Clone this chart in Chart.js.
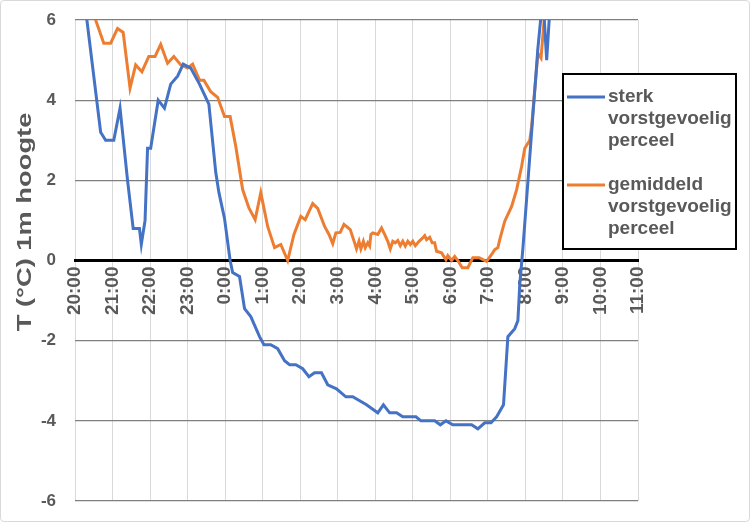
<!DOCTYPE html>
<html>
<head>
<meta charset="utf-8">
<script src="https://cdn.jsdelivr.net/npm/chart.js@4/dist/chart.umd.min.js"></script>
<style>
  body { margin: 0; background: #fff; }
  #wrap { width: 750px; height: 522px; box-sizing: border-box; border: 1px solid #d9d9d9; border-radius: 4px; }
  canvas { display: block; }
</style>
</head>
<body>
<div id="wrap"><canvas id="tempChart" width="748" height="520"></canvas></div>
<script>
// minuten na 20:00
const sterkTijd = [10, 19, 41, 49, 62, 72, 84, 93, 103, 106, 112, 116, 121, 133, 143, 153, 164, 173, 185, 199, 208, 214, 225, 230, 239, 248, 252, 263, 271, 281, 295, 302, 313, 324, 335, 343, 353, 364, 374, 383, 394, 404, 418, 433, 444, 466, 484, 493, 503, 514, 524, 545, 553, 575, 584, 593, 604, 634, 644, 655, 665, 674, 685, 692, 703, 708, 711, 716, 740, 748, 754, 764];
const sterkTemp = [7.3, 6.0, 3.2, 3.0, 3.0, 3.8, 2.0, 0.8, 0.8, 0.4, 1.0, 2.8, 2.8, 4.0, 3.8, 4.4, 4.6, 4.9, 4.8, 4.4, 4.1, 3.9, 2.2, 1.7, 1.05, 0.0, -0.3, -0.4, -1.2, -1.4, -1.9, -2.1, -2.1, -2.2, -2.5, -2.6, -2.6, -2.7, -2.9, -2.8, -2.8, -3.1, -3.2, -3.4, -3.4, -3.6, -3.8, -3.6, -3.8, -3.8, -3.9, -3.9, -4.0, -4.0, -4.1, -4.0, -4.1, -4.1, -4.2, -4.05, -4.05, -3.9, -3.6, -1.9, -1.7, -1.5, -0.6, 0.3, 5.3, 6.6, 5.0, 7.5];

const gemTijd = [15, 33, 46, 57, 68, 77, 88, 97, 107, 118, 128, 137, 148, 158, 169, 180, 188, 199, 206, 217, 228, 239, 248, 257, 268, 278, 288, 297, 308, 319, 329, 340, 350, 361, 368, 380, 388, 399, 406, 412, 417, 424, 430, 440, 447, 450, 454, 457, 461, 464, 468, 471, 473, 476, 484, 490, 495, 500, 504, 508, 512, 516, 520, 524, 528, 532, 536, 540, 544, 550, 555, 559, 562, 567, 571, 575, 578, 586, 593, 596, 602, 607, 612, 619, 628, 636, 646, 658, 666, 671, 676, 679, 687, 698, 706, 714, 719, 727, 730, 740, 745, 750, 762];
const gemTemp = [6.7, 6.0, 5.42, 5.42, 5.79, 5.69, 4.3, 4.88, 4.71, 5.09, 5.09, 5.39, 4.92, 5.09, 4.88, 4.8, 4.9, 4.5, 4.5, 4.21, 4.07, 3.59, 3.59, 2.85, 1.77, 1.31, 1.02, 1.69, 0.85, 0.32, 0.4, 0.0, 0.65, 1.1, 1.02, 1.42, 1.3, 0.85, 0.65, 0.42, 0.69, 0.7, 0.9, 0.77, 0.44, 0.29, 0.48, 0.29, 0.48, 0.32, 0.44, 0.36, 0.65, 0.69, 0.65, 0.81, 0.65, 0.48, 0.29, 0.48, 0.44, 0.5, 0.37, 0.48, 0.36, 0.48, 0.4, 0.48, 0.37, 0.48, 0.55, 0.62, 0.52, 0.58, 0.44, 0.44, 0.23, 0.19, 0.02, 0.12, 0.0, 0.1, 0.0, -0.18, -0.18, 0.07, 0.07, -0.02, 0.15, 0.27, 0.32, 0.52, 0.98, 1.35, 1.77, 2.35, 2.8, 3.0, 3.35, 5.17, 5.05, 6.0, 7.6];

const reeksNamen = ['sterk vorstgevoelig perceel', 'gemiddeld vorstgevoelig perceel'];
const yTitel = 'T (°C) 1m hoogte';
const startUur = 20;

const grijs = '#595959';
const fontFam = '"Liberation Sans", Arial, sans-serif';

function punten(tijd, temp) {
  return tijd.map((t, i) => ({ x: t, y: temp[i] }));
}

// y-as titel, iets uitgerekt zoals in het origineel
const asTitel = {
  id: 'asTitel',
  afterDraw(chart) {
    const ctx = chart.ctx;
    ctx.save();
    ctx.translate(24, 221);
    ctx.rotate(-Math.PI / 2);
    ctx.scale(1.3, 1);
    ctx.font = 'bold 21px ' + fontFam;
    ctx.fillStyle = grijs;
    ctx.textAlign = 'center';
    ctx.textBaseline = 'middle';
    ctx.fillText(yTitel, 0, 0);
    ctx.restore();
  }
};

const legendeBox = {
  id: 'legendeBox',
  afterDraw(chart) {
    const ctx = chart.ctx;
    ctx.save();
    ctx.fillStyle = '#fff';
    ctx.fillRect(562, 73, 173, 175);
    ctx.strokeStyle = '#000';
    ctx.lineWidth = 2;
    ctx.strokeRect(562, 73, 173, 175);
    ctx.font = 'bold 19px ' + fontFam;
    ctx.textBaseline = 'middle';
    chart.data.datasets.forEach((ds, i) => {
      const y0 = 96 + i * 88;
      ctx.strokeStyle = ds.borderColor;
      ctx.lineWidth = 3;
      ctx.beginPath();
      ctx.moveTo(566, y0);
      ctx.lineTo(604, y0);
      ctx.stroke();
      ctx.fillStyle = grijs;
      ds.label.split(' ').forEach((woord, j) => {
        ctx.fillText(woord, 607, y0 + j * 22);
      });
    });
    ctx.restore();
  }
};

new Chart(document.getElementById('tempChart'), {
  type: 'line',
  data: {
    datasets: [{
      label: reeksNamen[0],
      data: punten(sterkTijd, sterkTemp),
      borderColor: '#4472C4',
      borderWidth: 3,
      pointRadius: 0,
      tension: 0
    }, {
      label: reeksNamen[1],
      data: punten(gemTijd, gemTemp),
      borderColor: '#ED7D31',
      borderWidth: 3,
      pointRadius: 0,
      tension: 0
    }]
  },
  options: {
    responsive: false,
    animation: false,
    devicePixelRatio: 1,
    layout: { padding: { left: 0, top: 19, right: 111, bottom: 20 } },
    plugins: {
      legend: { display: false },
      tooltip: { enabled: false }
    },
    scales: {
      x: {
        type: 'linear',
        position: { y: 0 },
        min: 0,
        max: 900,
        ticks: {
          stepSize: 60,
          autoSkip: false,
          minRotation: 90,
          maxRotation: 90,
          padding: 6,
          color: grijs,
          font: { family: fontFam, size: 19, weight: 'bold' },
          callback: v => ((startUur + v / 60) % 24) + ':00'
        },
        grid: { color: '#d9d9d9', lineWidth: 1, drawTicks: false },
        border: { color: '#000', width: 3 }
      },
      y: {
        min: -6,
        max: 6,
        afterFit: s => { s.width = 74; },
        ticks: {
          stepSize: 2,
          padding: 3,
          color: grijs,
          font: { family: fontFam, size: 17, weight: 'bold' }
        },
        grid: {
          drawTicks: true,
          tickLength: 16,
          tickColor: 'rgba(0,0,0,0)',
          color: c => c.tick.value === 0 ? '#000' : '#7f7f7f',
          lineWidth: c => c.tick.value === 0 ? 3 : 1.3
        },
        border: { display: false }
      }
    }
  },
  plugins: [asTitel, legendeBox]
});
</script>
</body>
</html>
